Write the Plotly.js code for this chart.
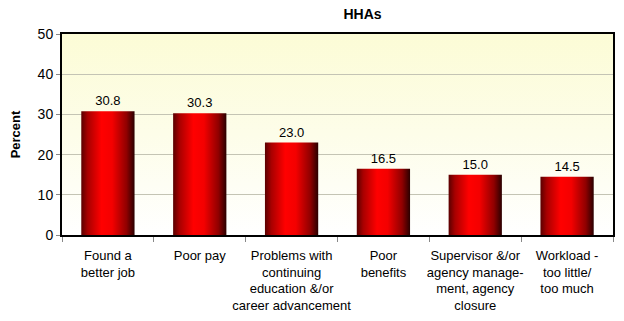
<!DOCTYPE html>
<html><head><meta charset="utf-8">
<script src="https://cdn.plot.ly/plotly-3.0.1.min.js"></script>
<style>html,body{margin:0;padding:0;background:#fff}</style>
</head><body><div id="chart" style="width:624px;height:321px"></div>
<script>
const categories = ["Found a<br>better job","Poor pay","Problems with<br>continuing<br>education &/or<br>career advancement","Poor<br>benefits","Supervisor &/or<br>agency manage-<br>ment, agency<br>closure","Workload -<br>too little/<br>too much"];
const values = [30.8, 30.3, 23.0, 16.5, 15.0, 14.5];
const yTicks = [0,10,20,30,40,50];

const FONT = '"Liberation Sans Narrow","Liberation Sans",Arial,sans-serif';
const trace = {
  type:'bar', x:categories, y:values,
  text: values.map(v=>v.toFixed(1)), textposition:'outside', cliponaxis:false,
  textfont:{family:FONT,size:13,color:'#000'},
  marker:{color:'#d00000', line:{width:0}},
  hoverinfo:'none'
};
const layout = {
  width:624, height:321,
  margin:{l:62,r:11,t:34,b:86},
  paper_bgcolor:'#fff', plot_bgcolor:'#fdfde2',
  bargap:0.42,
  showlegend:false,
  font:{family:FONT,size:13,color:'#000'},
  title:{text:'<b>HHAs</b>', x:0.5455, xref:'paper', y:0.955, yanchor:'middle', font:{family:FONT,size:14,color:'#000'}},
  xaxis:{type:'category', tickson:'boundaries', ticks:'outside', ticklen:5, tickcolor:'#888', tickangle:0,
         showline:true, linecolor:'#000', linewidth:2, mirror:true, showgrid:false, ticklabelstandoff:7,
         tickfont:{family:FONT,size:13,color:'#000'}, automargin:false},
  yaxis:{range:[0,50], tickvals:yTicks, ticks:'outside', ticklen:4, tickcolor:'#888',
         showline:true, linecolor:'#000', linewidth:2, mirror:true,
         gridcolor:'#c4c4b4', gridwidth:1, zeroline:false,
         tickfont:{family:FONT,size:14,color:'#000'},
         title:{text:'<b>Percent</b>', font:{family:FONT,size:13,color:'#000'}, standoff:14}, automargin:false}
};
Plotly.newPlot('chart',[trace],layout,{staticPlot:true,displayModeBar:false}).then(gd=>{
  const NS='http://www.w3.org/2000/svg';
  const svg = gd.querySelector('svg.main-svg');
  let defs = svg.querySelector('defs');
  if(!defs){defs=document.createElementNS(NS,'defs');svg.insertBefore(defs,svg.firstChild);}
  function grad(id, x2, y2, stops){
    const g=document.createElementNS(NS,'linearGradient');
    g.setAttribute('id',id);g.setAttribute('x1','0');g.setAttribute('y1','0');
    g.setAttribute('x2',x2);g.setAttribute('y2',y2);
    stops.forEach(([o,c])=>{const s=document.createElementNS(NS,'stop');s.setAttribute('offset',o);s.setAttribute('stop-color',c);g.appendChild(s);});
    defs.appendChild(g);
  }
  grad('barGrad','1','0',[[0,'#5a0000'],[0.12,'#a80000'],[0.38,'#ff0000'],[0.58,'#f40000'],[0.85,'#900000'],[1,'#2a0000']]);
  grad('bgGrad','0','1',[[0,'#fcfcd6'],[0.5,'#fdfde9'],[1,'#ffffff']]);
  gd.querySelectorAll('.trace.bars .point path').forEach(p=>{p.style.fill='url(#barGrad)';});
  const bg = gd.querySelector('.bglayer .bg');
  if(bg) bg.style.fill='url(#bgGrad)';
});
</script>
</body></html>
